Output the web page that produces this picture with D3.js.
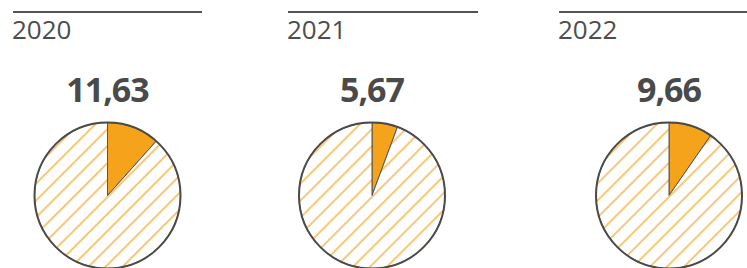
<!DOCTYPE html>
<html lang="en">
<head>
    <meta charset="UTF-8">
    <title>pies</title>
    <script src="https://cdn.jsdelivr.net/npm/d3@7"></script>
    <style>
        body{
            margin: 0;
            background: #fff;
        }
        .year{
            font-family: "Open Sans", sans-serif;
            font-size: 26px;
            fill: #4d4d4d;
        }
        .value{
            font-family: "Open Sans", sans-serif;
            font-weight: 700;
            font-size: 34px;
            letter-spacing: -1px;
            fill: #4a4a4a;
        }
    </style>
</head>
<body>
<svg id="main" width="747" height="268"></svg>

<script>
    // data
    let years = ["2020", "2021", "2022"]
    let values = [11.63, 5.67, 9.66]

    // layout of each panel (header line + pie centre)
    let panels = [
        {x0: 13, x1: 202, cx: 107.5},
        {x0: 288, x1: 478, cx: 372},
        {x0: 559, x1: 747, cx: 669}
    ]
    let cy = 195.5
    let radius = 73
    let gap = 12

    let svg = d3.select("#main")

    // hatch pattern
    let defs = svg.append("defs")
    let pattern = defs.append("pattern")
        .attr("id", "hatch")
        .attr("patternUnits", "userSpaceOnUse")
        .attr("width", gap)
        .attr("height", gap)
        .attr("patternTransform", "rotate(45)")
    pattern.append("rect")
        .attr("width", gap)
        .attr("height", gap)
        .attr("fill", "#fff")
    pattern.append("line")
        .attr("x1", 1).attr("y1", 0)
        .attr("x2", 1).attr("y2", gap)
        .attr("stroke", "#f5a21a")
        .attr("stroke-width", 1.2)

    let pie = d3.pie().sort(null).value(d => d)
    let arc = d3.arc().innerRadius(0).outerRadius(radius)

    years.forEach(function (year, i) {
        let p = panels[i]
        let g = svg.append("g")

        // header line
        g.append("line")
            .attr("x1", p.x0).attr("x2", p.x1)
            .attr("y1", 12).attr("y2", 12)
            .attr("stroke", "#555")
            .attr("stroke-width", 2)

        g.append("text")
            .attr("class", "year")
            .attr("x", p.x0 - 1)
            .attr("y", 39)
            .text(year)

        g.append("text")
            .attr("class", "value")
            .attr("x", p.cx)
            .attr("y", 101.5)
            .attr("text-anchor", "middle")
            .text(values[i].toFixed(2).replace(".", ","))

        let pg = g.append("g")
            .attr("transform", "translate(" + p.cx + "," + cy + ")")

        let slices = pie([values[i], 100 - values[i]])

        pg.selectAll("path")
            .data(slices)
            .join("path")
            .attr("d", arc)
            .attr("fill", (d, j) => j === 0 ? "#f5a31b" : "url(#hatch)")
            .attr("stroke", "#555")
            .attr("stroke-width", 1)

        // outline
        pg.append("circle")
            .attr("r", radius)
            .attr("fill", "none")
            .attr("stroke", "#4a4a4a")
            .attr("stroke-width", 2)
    })
</script>
</body>
</html>
